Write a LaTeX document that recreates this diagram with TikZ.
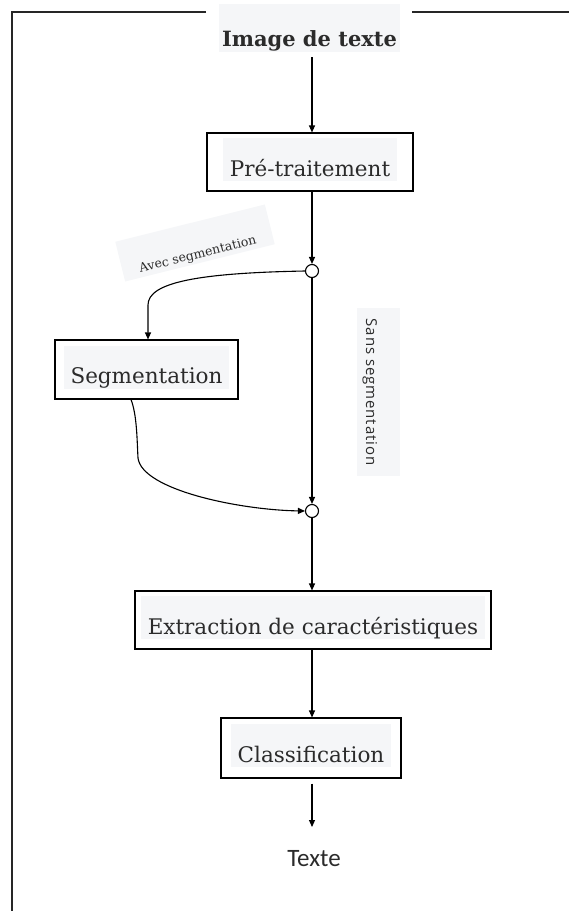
\documentclass[tikz,border=0pt]{standalone}
\usepackage{fontspec}
\setmainfont{DejaVu Serif}
\newfontfamily\labelsans[LetterSpace=6]{Open Sans}
\newfontfamily\outsans{Carlito}
\usetikzlibrary{arrows.meta}
\definecolor{hl}{HTML}{F5F6F8}
\definecolor{ink}{HTML}{2B2B2B}
% highlighted label inside a step box
\newcommand{\hltext}[1]{{\fboxsep=0pt\colorbox{hl}{\hspace{7pt}\rule[-5pt]{0pt}{43pt}#1\hspace{7pt}}}}
\tikzset{
  every picture/.style={x=1pt,y=-1pt},
  flow/.style={line width=1.1pt,draw=black,-{Triangle[length=7pt,width=6pt]}},
  stepbox/.style={draw=black,line width=1.1pt,fill=white,rectangle,inner sep=0pt,
    text height=38pt,text depth=10pt,
    font=\fontsize{21.5}{26}\selectfont,text=ink},
  junction/.style={circle,draw=black,line width=1.1pt,fill=white,minimum size=13pt,inner sep=0pt},
  hlbox/.style={fill=hl,inner sep=0pt},
  frameline/.style={line width=1.3pt,draw=black!85}
}
\begin{document}
\begin{tikzpicture}
\useasboundingbox (0,0) rectangle (569,911);
% open frame around the chain
\draw[frameline] (206,12) -- (12,12) -- (12,911);
\draw[frameline] (412,12) -- (569,12);

% title
\node[hlbox,minimum width=181pt,text height=42pt,text depth=6pt,
      font=\bfseries\fontsize{21}{25}\selectfont,text=ink] (img) at (309.5,28) {Image de texte};

% processing steps
\node[stepbox,minimum width=206pt,minimum height=58pt] (pre) at (310,162) {\hltext{Pré-traitement}};
\node[stepbox,minimum width=183pt,minimum height=59pt] (seg) at (146.5,369.5) {\hltext{Segmentation}};
\node[stepbox,minimum width=356pt,minimum height=58pt] (ext) at (313,620) {\hltext{Extraction de caractéristiques}};
\node[stepbox,minimum width=180pt,minimum height=60pt] (cls) at (311,748) {\hltext{Classification}};

% output
\node[font=\outsans\fontsize{25}{30}\selectfont,text=ink,inner sep=0pt] (out) at (314,859) {Texte};

% branching points
\node[junction] (j1) at (312,271) {};
\node[junction] (j2) at (312,511) {};

% branch labels
\node[hlbox,rotate=14,inner xsep=17pt,inner ysep=2pt,text height=34pt,text depth=3pt,
      font=\fontsize{12.5}{15}\selectfont,text=ink] (avec) at (195,243) {Avec segmentation};
\node[hlbox,rotate=-90,inner xsep=11pt,inner ysep=1pt,text height=33pt,text depth=8pt,
      font=\labelsans\fontsize{15}{18}\selectfont,text=ink] (sans) at (378.5,392) {Sans segmentation};

% connectors
\draw[flow] (312,57) -- (pre.north -| 312,0);
\draw[flow] (pre.south -| 312,0) -- (j1.north);
\draw[flow] (j1.south) -- (j2.north);
\draw[flow] (j1.west) .. controls (200,273) and (148,282) .. (148,305) -- (seg.north -| 148,0);
\draw[flow] (seg.south -| 131,0) .. controls (137,415) and (137,440) .. (138,458)
   .. controls (142,490) and (240,510) .. (j2.west);
\draw[flow] (j2.south) -- (ext.north -| 312,0);
\draw[flow] (ext.south -| 312,0) -- (cls.north -| 312,0);
\draw[flow] (cls.south -| 312,0) ++(0,5) -- (312,827);
\end{tikzpicture}
\end{document}
